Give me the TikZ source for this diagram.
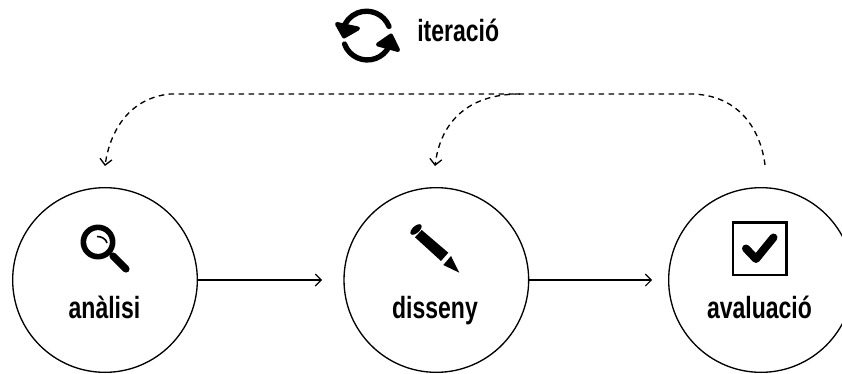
\documentclass[tikz,border=0pt]{standalone}
\usepackage{fontspec}
\setmainfont{Liberation Sans}[FakeStretch=0.75]
\usetikzlibrary{arrows.meta, positioning}

\begin{document}
\begin{tikzpicture}[x=0.75pt, y=-0.75pt, node distance=109pt,
    phase/.style={circle, draw, line width=1pt, minimum size=138.5pt, inner sep=0pt},
    caption/.style={anchor=base, inner sep=0pt, font=\bfseries\fontsize{23}{27}\selectfont},
    arrow/.style={line width=0.8pt, -{Straight Barb[length=4.5pt, width=9pt]}},
    dashback/.style={arrow, line width=1pt, dash pattern=on 4.2pt off 3.3pt},
    icon/.style={line width=4pt, line cap=round, line join=round}]

    \useasboundingbox (0,0) rectangle (842,374);

    \node (analisi) [phase] at (105,280) {};
    \node (disseny) [phase, right=of analisi] {};
    \node (avaluacio) [phase, right=104pt of disseny] {};

    \node (txtanalisi) [caption] at (104.5,318) {anàlisi};
    \node (txtdisseny) [caption] at (435,318) {disseny};
    \node (txtavaluacio) [caption] at (759.5,318) {avaluació};
    \node (txtiteracio) [caption, anchor=base west] at (417,42) {iteració};

    \coordinate (tipdisseny) at (322,280);
    \coordinate (tipavaluacio) at (652,280);
    \coordinate (retorn) at (765,165);
    \coordinate (backanalisi) at (105,166);
    \coordinate (backdisseny) at (435,166);

    \draw [arrow] (analisi) -- (tipdisseny);
    \draw [arrow] (disseny) -- (tipavaluacio);
    \draw [dashback] (retorn) .. controls (760,125) and (735,94) .. (690,94) -- (170,94) .. controls (130,98) and (110,130) .. (backanalisi);
    \draw [dashback] (520,94) .. controls (465,94) and (440,125) .. (backdisseny);

    % iteracio
    \draw [icon] (389,26.4) arc (22:165:18.2pt);
    \draw [icon] (344.5,44) arc (200:335:18.2pt);
    \draw [icon, line width=3pt, fill] (337,24) -- (344,36.5) -- (358,28.5) -- cycle;
    \draw [icon, line width=3pt, fill] (378,44.5) -- (391,35.5) -- (398,50) -- cycle;

    % lupa
    \draw [line width=4.2pt] (98,242) circle (11pt);
    \draw [icon, line width=5.4pt] (113,256) -- (126,269);
    \draw [line width=1.2pt] (97,236.5) .. controls (102,236.5) and (106,239) .. (107,243);

    % llapis
    \fill [rotate around={42:(416,229.5)}] (416,229.5) ellipse (5.2pt and 2.6pt);
    \fill (421.7,230) -- (415,237.3) -- (441,261) -- (448.3,252.7) -- cycle;
    \fill (451,256) -- (443.3,265) -- (459.3,272.7) -- cycle;

    % casella
    \draw [line width=1.9pt] (733,222.5) rectangle (786.5,275);
    \draw [icon, line width=6pt] (746,248.5) -- (756,259) -- (773.5,237.5);
\end{tikzpicture}
\end{document}
